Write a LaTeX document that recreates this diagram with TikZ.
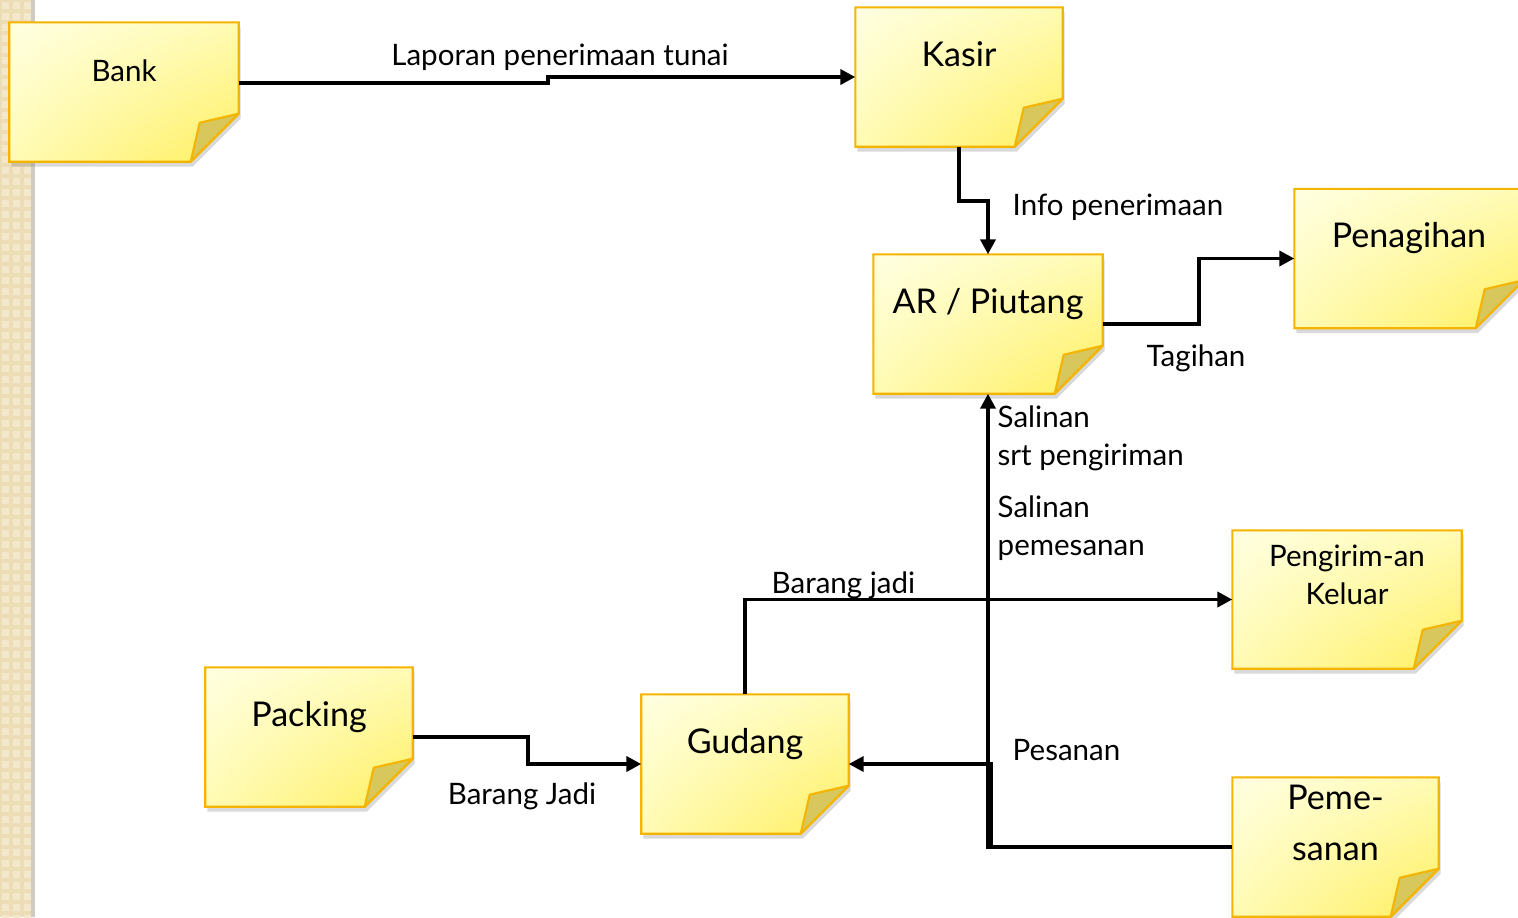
\documentclass[tikz,border=0pt]{standalone}
\usepackage{fontspec}
\setmainfont{Lato}
\usetikzlibrary{positioning,arrows.meta,shadows,shadings,backgrounds}
\definecolor{noteline}{HTML}{F5B400}
\definecolor{notelight}{HTML}{FFFFE2}
\definecolor{notemid}{HTML}{FFFBB4}
\definecolor{notedark}{HTML}{FFEF5E}
\definecolor{notefoldc}{HTML}{D7C75C}
\definecolor{stripbase}{HTML}{ECDDB6}
\definecolor{stripcell}{HTML}{F3E8CB}
\definecolor{stripedge}{HTML}{CFCBC2}
\newcommand{\notebig}{\fontsize{9.7}{12.5}\selectfont}
\newcommand{\notesmall}{\fontsize{8.4}{10.6}\selectfont}
\newcommand{\lblfont}{\fontsize{8.4}{10.7}\selectfont}
\tikzset{
    note/.style={rectangle, inner sep=0pt, minimum width=2.28cm,
        text height=0.58cm, text depth=0.80cm, align=center, font=\notebig},
    notenarrow/.style={note, minimum width=2.06cm},
    notebody/.style={draw=noteline, line width=0.6pt,
        upper left=notelight, upper right=notemid, lower left=notemid, lower right=notedark,
        drop shadow={shadow xshift=0.02cm, shadow yshift=-0.05cm, opacity=0.3}},
    notefold/.style={fill=notefoldc, draw=noteline, line width=0.6pt, line join=round},
    link/.style={draw=black, line width=1.1pt, -{Triangle[length=0.15cm,width=0.15cm]}},
    lbl/.style={inner sep=0pt, font=\lblfont},
}
\begin{document}
\begin{tikzpicture}
\useasboundingbox (0,0) rectangle (15.18,-9.17);
\clip (0,0) rectangle (15.18,-9.17);

% notes
\node[note, font=\notesmall] (bank) at (1.24,-0.92) {Bank};
\node[notenarrow] (kasir) at (9.59,-0.77) {Kasir};
\node[note] (ar) at (9.88,-3.24) {AR / Piutang};
\node[note] (penagihan) at (14.09,-2.585) {Penagihan};
\node[note, font=\notesmall, text height=0.73cm, text depth=0.64cm] (pengirim) at (13.47,-5.995) {Pengirim-an\\Keluar};
\node[notenarrow] (packing) at (3.09,-7.37) {Packing};
\node[notenarrow] (gudang) at (7.45,-7.64) {Gudang};
\node[notenarrow, minimum width=2.05cm, text height=0.82cm, text depth=0.56cm] (pemesanan) at (13.355,-8.47) {Peme-\\[0.07cm]sanan};

\begin{scope}[on background layer]
% left strip
\fill[stripbase] (0,0) rectangle (0.33,-9.17);
\foreach \i in {0,1,2}
    \foreach \j in {0,...,83}
        \fill[stripcell] (\i*0.11+0.02,-\j*0.11-0.02) rectangle ++(0.07,-0.07);
\draw[stripedge, line width=1pt] (0.33,0) -- (0.33,-9.17);
\foreach \n in {bank,kasir,ar,penagihan,pengirim,packing,gudang,pemesanan} {
    \shadedraw[notebody] (\n.north west) -- (\n.north east) -- ([yshift=0.48cm]\n.south east)
        -- ([xshift=-0.48cm]\n.south east) -- (\n.south west) -- cycle;
    \path[notefold] ([yshift=0.48cm]\n.south east) -- ([shift={(-0.39cm,0.39cm)}]\n.south east)
        -- ([xshift=-0.48cm]\n.south east) -- cycle;
}
\end{scope}

% connectors
\draw[link] ([yshift=0.09cm]bank.east) -- ++(3.09,0) |- (kasir.west);
\draw[link] (kasir.south) -- ++(0,-0.54) -| (ar.north);
\draw[link] (ar.east) -- ++(0.96,0) |- (penagihan.west);
\draw[link] (pemesanan.west) -| (ar.south);
\draw[link] (pemesanan.west) -| ([xshift=0.03cm]ar.south |- gudang.east) -- (gudang.east);
\draw[link] (gudang.north) |- (pengirim.west);
\draw[link] (packing.east) -- ++(1.15,0) |- (gudang.west);

% labels
\node[lbl, anchor=base] (lbllaporan) at (5.60,-0.65) {Laporan penerimaan tunai};
\node[lbl, anchor=base west] (lblinfo) at (10.12,-2.15) {Info penerimaan};
\node[lbl, anchor=base] (lbltagihan) at (11.96,-3.66) {Tagihan};
\node[lbl, anchor=base west, align=left] (lblsalinansrt) at (9.97,-4.65) {Salinan\\srt pengiriman};
\node[lbl, anchor=base west, align=left] (lblsalinanpes) at (9.97,-5.55) {Salinan\\pemesanan};
\node[lbl, anchor=base west] (lblbarangjadi) at (7.71,-5.93) {Barang jadi};
\node[lbl, anchor=base west] (lblpesanan) at (10.12,-7.60) {Pesanan};
\node[lbl, anchor=base] (lblbarangjadi2) at (5.22,-8.04) {Barang Jadi};
\end{tikzpicture}
\end{document}
